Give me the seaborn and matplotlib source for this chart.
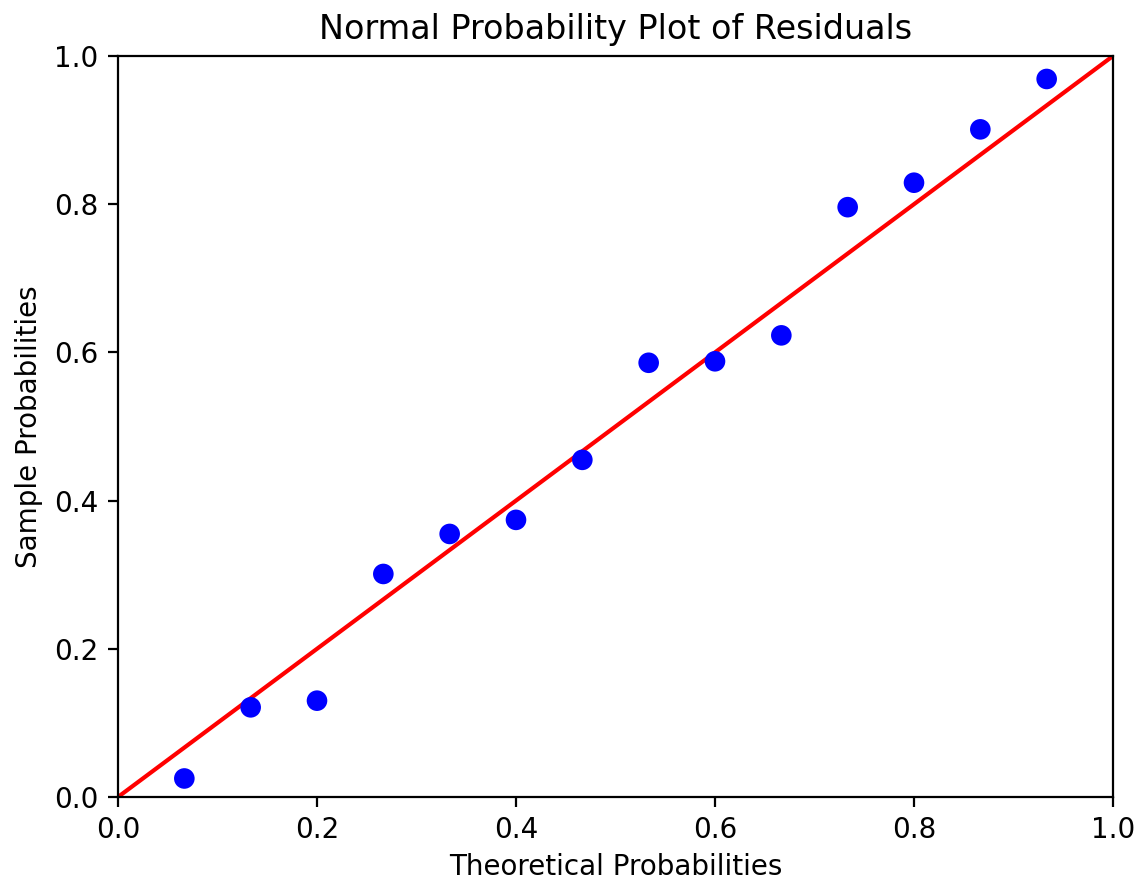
import numpy as np
import pandas as pd
import seaborn as sns
import matplotlib
matplotlib.use("Agg")
import matplotlib.pyplot as plt

# Data
theoretical = [1/15, 2/15, 3/15, 4/15, 5/15, 6/15, 7/15,
               8/15, 9/15, 10/15, 11/15, 12/15, 13/15, 14/15]
sample = [0.025, 0.121, 0.130, 0.301, 0.355, 0.374, 0.455,
          0.586, 0.588, 0.623, 0.796, 0.829, 0.901, 0.969]
line_x = [0.0, 1.0]
line_y = [0.0, 1.0]

df = pd.DataFrame({"Theoretical": theoretical, "Sample": sample})

sns.set_style("ticks")
plt.rcParams['font.family'] = ['DejaVu Sans']
plt.rcParams['text.color'] = 'black'
plt.rcParams['axes.labelcolor'] = 'black'

fig = plt.figure(figsize=(1139 / 200, 881 / 200), dpi=200)
ax = fig.add_axes([118 / 1139, 84 / 881, 995 / 1139, 741 / 881])

sns.scatterplot(data=df, x="Theoretical", y="Sample", color="blue",
                s=55, edgecolor="none", ax=ax, zorder=3)
sns.lineplot(x=line_x, y=line_y, color="red", linewidth=1.5, ax=ax, zorder=2)

ax.set_xlim(0, 1)
ax.set_ylim(0, 1)
ax.set_xticks(np.arange(0, 1.01, 0.2))
ax.set_yticks(np.arange(0, 1.01, 0.2))
ax.set_title("Normal Probability Plot of Residuals", fontsize=12, color="black")
ax.set_xlabel("Theoretical Probabilities", fontsize=10, labelpad=3)
ax.set_ylabel("Sample Probabilities", fontsize=10)
ax.tick_params(labelsize=10, color="black", labelcolor="black")
for sp in ax.spines.values():
    sp.set_color("black")
    sp.set_linewidth(0.8)

fig.savefig("out.png", dpi=200)
